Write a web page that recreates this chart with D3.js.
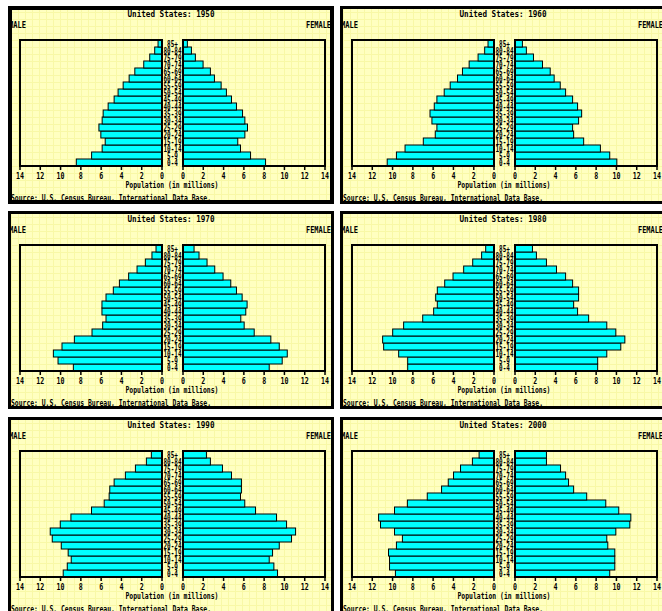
<!DOCTYPE html>
<html>
<head>
<meta charset="utf-8">
<script src="https://cdn.jsdelivr.net/npm/d3@7"></script>
<style>
	body { margin: 0; background: #fff; }
	svg { display: block; }
	text { font-family: "DejaVu Sans Mono", monospace; font-weight: bold; fill: #000; }
</style>
</head>
<body>
<svg id="chart" width="662" height="611"></svg>
<script>
// population pyramids, one panel per census year

var ageGroups = ["0-4","5-9","10-14","15-19","20-24","25-29","30-34","35-39","40-44",
	"45-49","50-54","55-59","60-64","65-69","70-74","75-79","80-84","85+"];
var years = [1950, 1960, 1970, 1980, 1990, 2000];
var ticks = [0, 2, 4, 6, 8, 10, 12, 14];

// millions, youngest group first
var male1950 = [8.45, 6.94, 5.9, 5.6, 6.03, 6.22, 5.9, 5.8, 5.31, 4.72, 4.33, 3.83, 3.24, 2.68, 1.8, 1.21, 0.72, 0.39];
var female1950 = [8.14, 6.66, 5.67, 5.4, 6.1, 6.36, 6.1, 5.87, 5.27, 4.78, 4.28, 3.76, 3.1, 2.7, 1.98, 1.22, 0.83, 0.43];
var male1960 = [10.53, 9.62, 8.77, 6.97, 5.79, 5.63, 6.12, 6.31, 5.89, 5.63, 4.91, 4.32, 3.6, 3.11, 2.45, 1.57, 0.92, 0.59];
var female1960 = [10.04, 9.34, 8.42, 6.77, 5.78, 5.68, 6.27, 6.57, 6.17, 5.68, 4.99, 4.46, 3.86, 3.47, 2.71, 1.82, 1.12, 0.73];
var male1970 = [8.74, 10.25, 10.71, 9.86, 8.64, 6.9, 5.85, 5.52, 5.92, 5.92, 5.52, 4.8, 4.2, 3.29, 2.46, 1.64, 0.99, 0.59];
var female1970 = [8.5, 9.78, 10.28, 9.49, 8.66, 7.02, 6.03, 5.7, 6.19, 6.32, 5.83, 5.27, 4.71, 3.95, 3.13, 2.37, 1.58, 1.09];
var male1980 = [8.51, 8.51, 9.4, 10.88, 10.98, 9.99, 8.91, 7.03, 5.95, 5.59, 5.75, 5.59, 4.86, 4.04, 2.99, 2.1, 1.22, 0.82];
var female1980 = [8.15, 8.15, 9.05, 10.43, 10.83, 9.94, 9.05, 7.26, 6.17, 5.78, 6.27, 6.27, 5.68, 4.99, 4.09, 3.1, 2.11, 1.72];
var male1990 = [9.74, 9.34, 8.95, 9.25, 9.93, 10.82, 11.02, 10.03, 8.98, 6.95, 5.7, 5.21, 5.15, 4.72, 3.61, 2.62, 1.54, 1.05];
var female1990 = [9.32, 8.96, 8.5, 8.83, 9.49, 10.7, 11.1, 10.21, 9.22, 7.15, 6.09, 5.67, 5.76, 5.76, 4.78, 3.89, 2.7, 2.31];
var male2000 = [9.72, 10.3, 10.3, 10.4, 9.62, 9.03, 9.81, 11.19, 11.38, 9.81, 8.54, 6.58, 5.17, 4.51, 3.99, 3.3, 2.13, 1.47];
var female2000 = [9.34, 9.84, 9.84, 9.84, 9.15, 9.05, 9.94, 11.32, 11.42, 10.23, 8.95, 7.07, 5.78, 5.28, 4.99, 4.49, 3.1, 3.1];

var maleByYear = [male1950, male1960, male1970, male1980, male1990, male2000];
var femaleByYear = [female1950, female1960, female1970, female1980, female1990, female2000];

var svg = d3.select("#chart");
var panelW = 326, panelH = 198;
var colX = [8, 340], rowY = [6, 211, 417];

var xL = d3.scaleLinear().domain([0, 14]).range([154, 12]);
var xR = d3.scaleLinear().domain([0, 14]).range([175, 317]);
var y = d3.scaleBand().domain(ageGroups).range([160, 34]);

years.forEach(function (year, i) {
	var px = colX[i % 2], py = rowY[Math.floor(i / 2)];
	var clipId = "clip" + year;

	svg.append("clipPath").attr("id", clipId)
		.append("rect").attr("width", panelW).attr("height", panelH);

	var g = svg.append("g").attr("transform", "translate(" + px + "," + py + ")");
	var inner = g.append("g").attr("clip-path", "url(#" + clipId + ")");

	inner.append("rect").attr("width", panelW).attr("height", panelH).attr("fill", "#ffffc0");

	// faint background grid
	inner.append("g").selectAll("line.v").data(d3.range(3, panelW, 7)).enter().append("line")
		.attr("x1", function (d) { return d + 0.5; }).attr("x2", function (d) { return d + 0.5; })
		.attr("y1", 0).attr("y2", panelH)
		.attr("stroke", "#f8f8a6").attr("stroke-width", 1);
	inner.append("g").selectAll("line.h").data(d3.range(6, panelH, 7)).enter().append("line")
		.attr("y1", function (d) { return d + 0.5; }).attr("y2", function (d) { return d + 0.5; })
		.attr("x1", 0).attr("x2", panelW)
		.attr("stroke", "#f8f8a6").attr("stroke-width", 1);

	var males = maleByYear[i].map(function (v, k) { return {age: ageGroups[k], v: v}; });
	var females = femaleByYear[i].map(function (v, k) { return {age: ageGroups[k], v: v}; });

	inner.append("g").selectAll("rect").data(males).enter().append("rect")
		.attr("x", function (d) { return xL(d.v); })
		.attr("y", function (d) { return y(d.age); })
		.attr("width", function (d) { return xL(0) - xL(d.v); })
		.attr("height", y.bandwidth())
		.attr("fill", "#00ffff").attr("stroke", "#000").attr("stroke-width", 1);

	inner.append("g").selectAll("rect").data(females).enter().append("rect")
		.attr("x", xR(0))
		.attr("y", function (d) { return y(d.age); })
		.attr("width", function (d) { return xR(d.v) - xR(0); })
		.attr("height", y.bandwidth())
		.attr("fill", "#00ffff").attr("stroke", "#000").attr("stroke-width", 1);

	// plot frames
	[xL, xR].forEach(function (sc) {
		var x0 = Math.min(sc.range()[0], sc.range()[1]), x1 = Math.max(sc.range()[0], sc.range()[1]);
		inner.append("rect").attr("x", x0).attr("y", 34).attr("width", x1 - x0).attr("height", 126)
			.attr("fill", "none").attr("stroke", "#000").attr("stroke-width", 2);
		inner.append("g").selectAll("line").data(ticks).enter().append("line")
			.attr("x1", function (d) { return sc(d); }).attr("x2", function (d) { return sc(d); })
			.attr("y1", 160).attr("y2", 164).attr("stroke", "#000").attr("stroke-width", 1.5);
		inner.append("g").selectAll("text").data(ticks).enter().append("text")
			.attr("x", function (d) { return sc(d); }).attr("y", 173)
			.attr("text-anchor", "middle").style("font-size", "9px")
			.attr("textLength", function (d) { return d >= 10 ? 8 : 4; })
			.attr("lengthAdjust", "spacingAndGlyphs")
			.text(function (d) { return d; });
	});

	// age labels, crammed into the centre column
	inner.append("g").selectAll("text").data(ageGroups).enter().append("text")
		.attr("x", 164.5).attr("y", function (d) { return y(d) + y.bandwidth() / 2 + 3; })
		.attr("text-anchor", "middle").style("font-size", "9px")
		.attr("textLength", function (d) { return d.length * 3.6; })
		.attr("lengthAdjust", "spacingAndGlyphs")
		.text(function (d) { return d; });

	inner.append("text").attr("x", 163).attr("y", 11).attr("text-anchor", "middle")
		.style("font-size", "9px").attr("textLength", 87).attr("lengthAdjust", "spacingAndGlyphs")
		.text("United States: " + year);
	inner.append("text").attr("x", 1).attr("y", 22)
		.style("font-size", "9px").attr("textLength", 17).attr("lengthAdjust", "spacingAndGlyphs")
		.text("MALE");
	inner.append("text").attr("x", 323).attr("y", 22).attr("text-anchor", "end")
		.style("font-size", "9px").attr("textLength", 25).attr("lengthAdjust", "spacingAndGlyphs")
		.text("FEMALE");
	inner.append("text").attr("x", 164).attr("y", 182).attr("text-anchor", "middle")
		.style("font-size", "9px").attr("textLength", 93).attr("lengthAdjust", "spacingAndGlyphs")
		.text("Population (in millions)");
	inner.append("text").attr("x", 3).attr("y", 195)
		.style("font-size", "9px").attr("textLength", 200).attr("lengthAdjust", "spacingAndGlyphs")
		.text("Source: U.S. Census Bureau, International Data Base.");

	// panel border, the first one is the selected one
	var bw = i === 0 ? 4 : 3;
	g.append("rect").attr("x", bw / 2).attr("y", bw / 2)
		.attr("width", panelW - bw).attr("height", panelH - bw)
		.attr("fill", "none").attr("stroke", "#000").attr("stroke-width", bw);
});
</script>
</body>
</html>
